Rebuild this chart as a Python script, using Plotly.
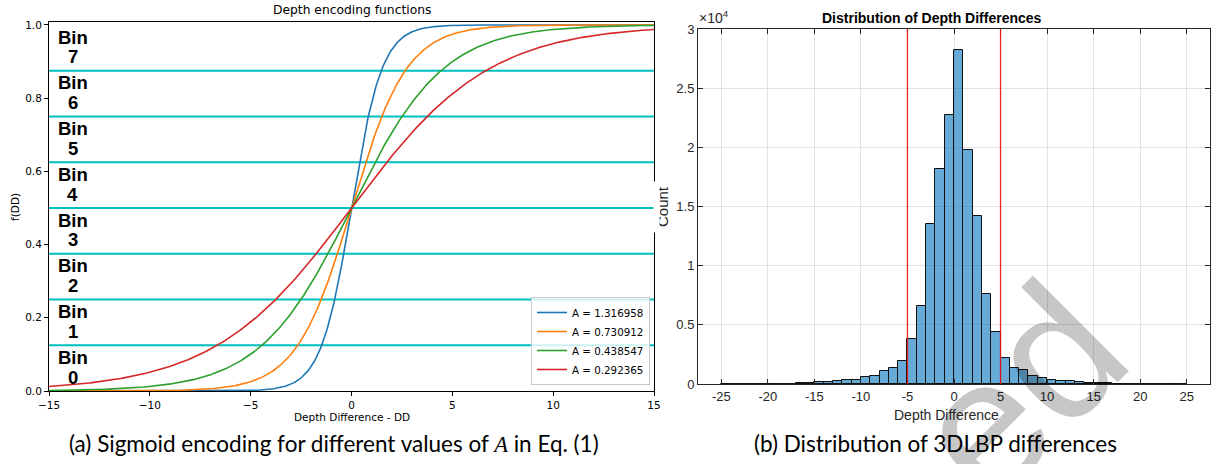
import numpy as np
import plotly.graph_objects as go

# ---------------- data ----------------
A_values = [1.316958, 0.730912, 0.438547, 0.292365]
curve_colors = ["#1f77b4", "#ff7f0e", "#2ca02c", "#d62728"]
dd_range = [-15, 15]
dd_ticks = [-15, -10, -5, 0, 5, 10, 15]
f_ticks = [0.0, 0.2, 0.4, 0.6, 0.8, 1.0]
bin_boundaries = [0.125, 0.25, 0.375, 0.5, 0.625, 0.75, 0.875]
bin_lower = [0.0, 0.125, 0.25, 0.375, 0.5, 0.625, 0.75, 0.875]
bin_names = ["0", "1", "2", "3", "4", "5", "6", "7"]

hist_left_edges = list(range(-25, 25))
hist_counts = [5, 6, 8, 10, 15, 20, 30, 40, 60, 110,
               140, 200, 280, 310, 370, 560, 700, 1070, 1320, 1970,
               3800, 6600, 13500, 18200, 22700, 28200, 19800, 14200, 7600, 4400,
               2200, 1320, 1150, 700, 540, 370, 250, 230, 170, 110,
               80, 60, 40, 30, 20, 15, 10, 8, 6, 5]
threshold_lines = [-5, 5]
hist_xticks = [-25, -20, -15, -10, -5, 0, 5, 10, 15, 20, 25]
hist_xtick_text = ["-25", "-20", "-15", "-10", "-5", "0", "5", "10", "15", "20", "25"]
hist_yticks = [0, 5000, 10000, 15000, 20000, 25000, 30000]
hist_ytick_text = ["0", "0.5", "1", "1.5", "2", "2.5", "3"]

# body margin is removed by the post script, so the figure fills the window
W, H = 1211, 464
def px(x):
    return x / W
def py(y):
    return 1 - y / H

fig = go.Figure()

dd = np.linspace(dd_range[0], dd_range[1], 601)
for A, c in zip(A_values, curve_colors):
    fig.add_trace(go.Scatter(
        x=dd, y=1.0 / (1.0 + np.exp(-A * dd)), mode="lines",
        line=dict(color=c, width=1.6), name=f"A = {A:.6f}",
        xaxis="x", yaxis="y"))

fig.add_trace(go.Bar(
    x=[e + 0.5 for e in hist_left_edges], y=hist_counts, width=1,
    marker=dict(color="rgba(0,114,189,0.6)", line=dict(color="#111", width=1)),
    xaxis="x2", yaxis="y2", showlegend=False))

shapes = []
for b in bin_boundaries:
    shapes.append(dict(type="line", xref="x", yref="y", x0=dd_range[0], x1=dd_range[1],
                       y0=b, y1=b, line=dict(color="#00bfbf", width=2), layer="below"))
for t in threshold_lines:
    shapes.append(dict(type="line", xref="x2", yref="y2", x0=t, x1=t, y0=0, y1=30000,
                       line=dict(color="rgba(235,20,20,0.9)", width=1.3), layer="above"))

ann = []
# watermark
ann.append(dict(text="ed", x=px(1018), y=py(390), xref="paper", yref="paper",
                showarrow=False, textangle=-45, xanchor="center", yanchor="middle",
                font=dict(family="Liberation Sans", size=187, color="rgba(0,0,0,0.22)")))

# bin labels
for lo, nm in zip(bin_lower, bin_names):
    ann.append(dict(text="Bin", x=-13.82, y=lo + 0.092, xref="x", yref="y", showarrow=False,
                    xanchor="center", yanchor="middle",
                    font=dict(family="Liberation Sans", size=18.5, color="black", weight="bold")))
    ann.append(dict(text=nm, x=-13.82, y=lo + 0.0376, xref="x", yref="y", showarrow=False,
                    xanchor="center", yanchor="middle",
                    font=dict(family="Liberation Sans", size=18.5, color="black", weight="bold")))

# left chart texts
ann.append(dict(text="Depth encoding functions", x=px(352), y=py(10), xref="paper", yref="paper",
                showarrow=False, xanchor="center", yanchor="middle",
                font=dict(family="DejaVu Sans", size=12.3, color="black")))
ann.append(dict(text="f(DD)", x=px(15), y=py(207), xref="paper", yref="paper", textangle=-90,
                showarrow=False, xanchor="center", yanchor="middle",
                font=dict(family="DejaVu Sans", size=10.5, color="black")))
ann.append(dict(text="Depth Difference - DD", x=px(352), y=py(417), xref="paper", yref="paper",
                showarrow=False, xanchor="center", yanchor="middle",
                font=dict(family="DejaVu Sans", size=10.5, color="black")))

# right chart texts
ann.append(dict(text="<b>Distribution of Depth Differences</b>", x=px(932), y=py(18), xref="paper",
                yref="paper", showarrow=False, xanchor="center", yanchor="middle",
                font=dict(family="Liberation Sans", size=14, color="black")))
ann.append(dict(text="\u00d710<sup>4</sup>", x=px(697), y=py(17), xref="paper", yref="paper",
                showarrow=False, xanchor="left", yanchor="middle",
                font=dict(family="Liberation Sans", size=14, color="#262626")))
ann.append(dict(text="Depth Difference", x=px(946), y=py(415), xref="paper", yref="paper",
                showarrow=False, xanchor="center", yanchor="middle",
                font=dict(family="Liberation Sans", size=14, color="#262626")))
ann.append(dict(text="Count", x=px(663), y=py(207), xref="paper", yref="paper", textangle=-90,
                showarrow=False, xanchor="center", yanchor="middle",
                font=dict(family="Liberation Sans", size=15, color="#262626")))
ann.append(dict(text=" ", x=px(660), y=py(207), xref="paper", yref="paper", showarrow=False,
                xanchor="right", yanchor="middle", width=5, height=50, borderpad=0,
                bgcolor="white"))

# captions
ann.append(dict(text="(a) Sigmoid encoding for different values of "
                     "<span style=\"font-family:'Liberation Serif'\"><i>A</i></span> in Eq. (1)",
                x=px(334), y=py(443), xref="paper", yref="paper", showarrow=False,
                xanchor="center", yanchor="middle",
                font=dict(family="Lato", size=22.5, color="black")))
ann.append(dict(text="(b) Distribution of 3DLBP differences",
                x=px(935), y=py(443), xref="paper", yref="paper", showarrow=False,
                xanchor="center", yanchor="middle",
                font=dict(family="Lato", size=22.5, color="black")))

fig.update_layout(
    width=W, height=H, margin=dict(l=0, r=0, t=0, b=0),
    paper_bgcolor="white", plot_bgcolor="white",
    shapes=shapes, annotations=ann, bargap=0,
    legend=dict(x=px(650), y=py(385), xanchor="right", yanchor="bottom",
                bgcolor="rgba(255,255,255,0.8)", bordercolor="#cccccc", borderwidth=1,
                font=dict(family="DejaVu Sans", size=10.3, color="black"),
                itemwidth=30, tracegroupgap=0),
    xaxis=dict(domain=[px(49), px(654)], range=dd_range, tickvals=dd_ticks, automargin=False,
               showline=True, linecolor="black", linewidth=1, mirror=True,
               ticks="outside", ticklen=4, tickcolor="black", showgrid=False, zeroline=False,
               tickfont=dict(family="DejaVu Sans", size=10.5, color="black"), anchor="y"),
    yaxis=dict(domain=[py(391), py(22)], range=[0, 1.008], tickvals=f_ticks, tickformat=".1f",
               automargin=False,
               showline=True, linecolor="black", linewidth=1, mirror=True,
               ticks="outside", ticklen=4, tickcolor="black", showgrid=False, zeroline=False,
               tickfont=dict(family="DejaVu Sans", size=10.5, color="black"), anchor="x"),
    xaxis2=dict(domain=[px(698), px(1210)], range=[-27.5, 27.5], tickvals=hist_xticks,
                automargin=False,
                ticktext=hist_xtick_text, showline=True, linecolor="#262626", linewidth=1,
                mirror="ticks", ticks="inside", ticklen=5, tickcolor="#262626",
                showgrid=True, gridcolor="#e2e2e2", gridwidth=1, zeroline=False,
                tickfont=dict(family="Liberation Sans", size=13, color="#262626"), anchor="y2"),
    yaxis2=dict(domain=[py(384), py(29)], range=[0, 30000], tickvals=hist_yticks,
                automargin=False,
                ticktext=hist_ytick_text, showline=True, linecolor="#262626", linewidth=1,
                mirror="ticks", ticks="inside", ticklen=5, tickcolor="#262626",
                showgrid=True, gridcolor="#e2e2e2", gridwidth=1, zeroline=False,
                tickfont=dict(family="Liberation Sans", size=13, color="#262626"), anchor="x2"),
)

fig.write_html("out.html", config={"displayModeBar": False},
               post_script="document.body.style.margin='0px';")
